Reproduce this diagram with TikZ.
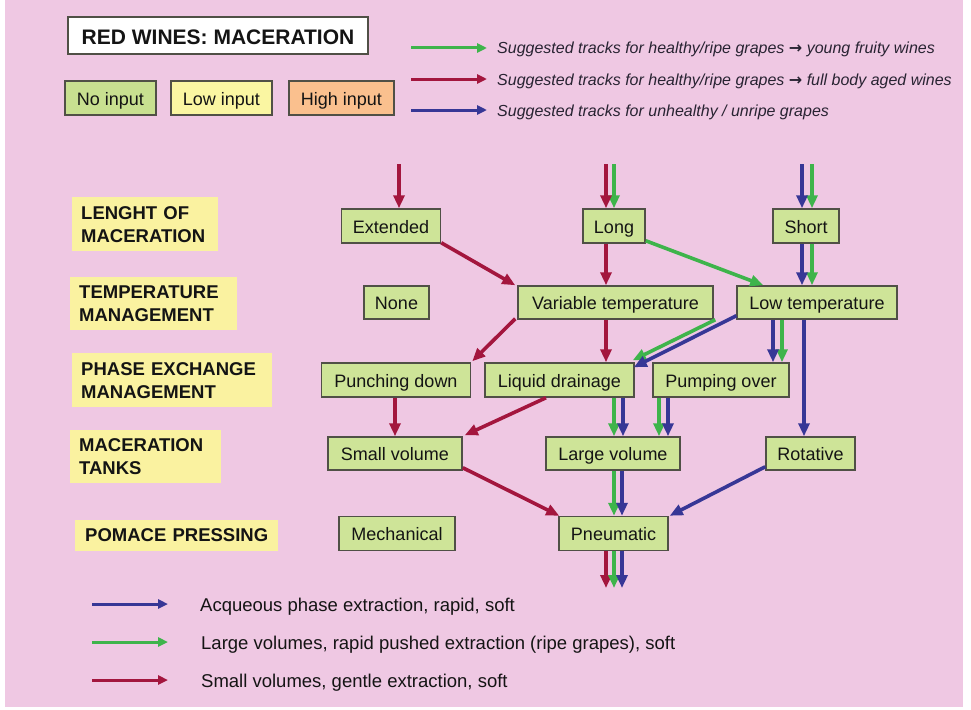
\documentclass[tikz,border=0pt]{standalone}
\usepackage{fontspec}
\setmainfont{Liberation Sans}
\newfontfamily\dejavu{DejaVu Sans}
\usetikzlibrary{arrows.meta}
\definecolor{bgpink}{RGB}{239,200,227}
\definecolor{nodegreen}{RGB}{206,228,152}
\definecolor{noinput}{RGB}{200,224,144}
\definecolor{lowyellow}{RGB}{250,246,162}
\definecolor{highorange}{RGB}{250,192,142}
\definecolor{catyellow}{RGB}{250,242,160}
\definecolor{aRed}{RGB}{163,22,62}
\definecolor{aGreen}{RGB}{62,180,75}
\definecolor{aBlue}{RGB}{55,55,150}
\definecolor{edgegray}{RGB}{80,80,70}
\definecolor{txt}{RGB}{20,20,20}
\definecolor{legtxt}{RGB}{40,35,50}
\tikzset{
 nbox/.style={draw=edgegray, line width=1.5pt, fill=nodegreen, minimum height=34pt,
   inner sep=0pt, text height=16pt, text depth=2pt, font=\fontsize{18}{21}\selectfont, text=txt},
 titlebox/.style={draw=edgegray, line width=1.5pt, fill=white, minimum height=37pt,
   inner sep=0pt, text height=19pt, text depth=1pt, font=\fontsize{21}{24}\selectfont\bfseries, text=txt},
 cat/.style={fill=catyellow, anchor=north west, inner xsep=9pt, inner ysep=0pt, align=left,
   font=\fontsize{18.5}{23}\selectfont\bfseries, text=txt},
 flow/.style={line width=3.6pt, -{Triangle[length=13pt,width=11pt]}},
 rd/.style={flow, draw=aRed},
 gr/.style={flow, draw=aGreen},
 bl/.style={flow, draw=aBlue},
 legarrow/.style={line width=3pt, -{Triangle[length=10pt,width=9pt]}},
 toplegtext/.style={anchor=base west, inner sep=0pt, text=legtxt, font=\fontsize{16}{19}\selectfont\itshape},
 botlegtext/.style={anchor=base west, inner sep=0pt, text=txt, font=\fontsize{18.5}{22}\selectfont},
}
\newcommand\legarr{{\dejavu\upshape\bfseries\fontsize{16}{18}\selectfont →}}
\begin{document}
\begin{tikzpicture}[x=1pt,y=-1pt]
\useasboundingbox (0,0) rectangle (971,709);
\fill[white] (0,0) rectangle (971,709);
\fill[bgpink] (5,0) rectangle (963,707);

% title and input legend
\node[titlebox, minimum width=300pt] (title) at (218,35.5) {RED WINES: MACERATION};
\node[nbox, fill=noinput, minimum width=91pt] (noin) at (110.5,98) {No input};
\node[nbox, fill=lowyellow, minimum width=101pt] (lowin) at (221.5,98) {Low input};
\node[nbox, fill=highorange, minimum width=105pt] (highin) at (341.5,98) {High input};

% track legend (top right)
\coordinate (lg1a) at (411,48); \coordinate (lg1b) at (487,48);
\coordinate (lg2a) at (411,79); \coordinate (lg2b) at (487,79);
\coordinate (lg3a) at (411,110); \coordinate (lg3b) at (487,110);
\draw[legarrow, draw=aGreen] (lg1a) -- (lg1b);
\draw[legarrow, draw=aRed] (lg2a) -- (lg2b);
\draw[legarrow, draw=aBlue] (lg3a) -- (lg3b);
\node[toplegtext] (lt1) at (497,54) {Suggested tracks for healthy/ripe grapes \legarr{} young fruity wines};
\node[toplegtext] (lt2) at (497,85) {Suggested tracks for healthy/ripe grapes \legarr{} full body aged wines};
\node[toplegtext] (lt3) at (497,116) {Suggested tracks for unhealthy / unripe grapes};

% category labels
\node[cat, minimum width=146pt, minimum height=54pt, text width=128pt] (c1) at (72,197) {LENGHT OF\\MACERATION};
\node[cat, minimum width=167pt, minimum height=53pt, text width=149pt] (c2) at (70,277) {TEMPERATURE\\MANAGEMENT};
\node[cat, minimum width=200pt, minimum height=54pt, text width=182pt] (c3) at (72,353) {PHASE EXCHANGE\\MANAGEMENT};
\node[cat, minimum width=151pt, minimum height=53pt, text width=133pt] (c4) at (70,430) {MACERATION\\TANKS};
\node[cat, minimum width=203pt, minimum height=31pt, text width=185pt, align=center] (c5) at (75,519.5) {POMACE PRESSING};

% process nodes
\node[nbox, minimum width=99pt] (ext) at (391,226) {Extended};
\node[nbox, minimum width=62pt] (long) at (614,226) {Long};
\node[nbox, minimum width=66pt] (short) at (806,226) {Short};
\node[nbox, minimum width=65pt, minimum height=33pt] (none) at (396.5,302.5) {None};
\node[nbox, minimum width=195pt, minimum height=33pt] (var) at (615.5,302.5) {Variable temperature};
\node[nbox, minimum width=160pt, minimum height=33pt] (low) at (817,302.5) {Low temperature};
\node[nbox, minimum width=149pt] (punch) at (396,380) {Punching down};
\node[nbox, minimum width=149pt] (liquid) at (559.5,380) {Liquid drainage};
\node[nbox, minimum width=136pt] (pump) at (721,380) {Pumping over};
\node[nbox, minimum width=134pt, minimum height=33pt] (small) at (395,453.5) {Small volume};
\node[nbox, minimum width=134pt, minimum height=33pt] (large) at (613,453.5) {Large volume};
\node[nbox, minimum width=89pt, minimum height=33pt] (rot) at (810.5,453.5) {Rotative};
\node[nbox, minimum width=116pt] (mech) at (397,533.5) {Mechanical};
\node[nbox, minimum width=109pt] (pneu) at (613.5,533.5) {Pneumatic};

% incoming arrows
\coordinate (inE) at (399,164);
\coordinate (inLr) at (606,164);
\coordinate (inLg) at (614,164);
\coordinate (inSb) at (802,164);
\coordinate (inSg) at (812,164);
\draw[rd] (inE) -- (inE |- ext.north);
\draw[gr] (inLg) -- (inLg |- long.north);
\draw[rd] (inLr) -- (inLr |- long.north);
\draw[gr] (inSg) -- (inSg |- short.north);
\draw[bl] (inSb) -- (inSb |- short.north);

% row 1 -> row 2
\draw[rd] ([yshift=1pt]ext.south east) -- ([xshift=-2pt]var.north west);
\draw[rd] ([xshift=-8pt]long.south) coordinate (t1) -- (t1 |- var.north);
\draw[gr] ([yshift=3pt]long.south east) -- ([xshift=27pt]low.north west);
\draw[gr] ([xshift=6pt]short.south) coordinate (t2) -- (t2 |- low.north);
\draw[bl] ([xshift=-4pt]short.south) coordinate (t3) -- (t3 |- low.north);

% row 2 -> row 3
\draw[rd] ([xshift=-2pt,yshift=1pt]var.south west) -- ([xshift=1pt,yshift=1pt]punch.north east);
\draw[rd] ([xshift=-9.5pt]var.south) coordinate (t4) -- (t4 |- liquid.north);
\draw[gr] ([xshift=-21pt]low.south west) -- ([xshift=-2pt,yshift=2pt]liquid.north east);
\draw[bl] ([yshift=4pt]low.south west) -- ([xshift=-1pt,yshift=-5pt]liquid.north east);
\draw[gr] ([xshift=-35pt]low.south) coordinate (t5) -- (t5 |- pump.north);
\draw[bl] ([xshift=-44pt]low.south) coordinate (t6) -- (t6 |- pump.north);
\draw[bl] ([xshift=-13pt]low.south) coordinate (t7) -- (t7 |- rot.north);

% row 3 -> row 4
\draw[rd] ([xshift=-1pt]punch.south) coordinate (t8) -- (t8 |- small.north);
\draw[rd] ([xshift=-13.5pt]liquid.south) -- ([xshift=2pt,yshift=1pt]small.north east);
\draw[gr] ([xshift=54.5pt]liquid.south) coordinate (t9) -- (t9 |- large.north);
\draw[bl] ([xshift=63.5pt]liquid.south) coordinate (t10) -- (t10 |- large.north);
\draw[gr] ([xshift=-62pt]pump.south) coordinate (t11) -- (t11 |- large.north);
\draw[bl] ([xshift=-53pt]pump.south) coordinate (t12) -- (t12 |- large.north);

% row 4 -> row 5
\draw[rd] ([yshift=3pt]small.south east) -- ([xshift=1pt]pneu.north west);
\draw[gr] ([xshift=1pt]large.south) coordinate (t13) -- (t13 |- pneu.north);
\draw[bl] ([xshift=9pt]large.south) coordinate (t14) -- (t14 |- pneu.north);
\draw[bl] ([yshift=4pt]rot.south west) -- ([xshift=1pt]pneu.north east);

% outgoing
\coordinate (oR) at (606,588);
\coordinate (oG) at (614,588);
\coordinate (oB) at (622,588);
\draw[rd] (oR |- pneu.south) -- (oR);
\draw[gr] (oG |- pneu.south) -- (oG);
\draw[bl] (oB |- pneu.south) -- (oB);

% bottom legend
\coordinate (bl1a) at (92,604); \coordinate (bl1b) at (168,604);
\coordinate (bl2a) at (92,642); \coordinate (bl2b) at (168,642);
\coordinate (bl3a) at (92,680); \coordinate (bl3b) at (168,680);
\draw[legarrow, draw=aBlue] (bl1a) -- (bl1b);
\draw[legarrow, draw=aGreen] (bl2a) -- (bl2b);
\draw[legarrow, draw=aRed] (bl3a) -- (bl3b);
\node[botlegtext] (bt1) at (200,611) {Acqueous phase extraction, rapid, soft};
\node[botlegtext] (bt2) at (201,649) {Large volumes, rapid pushed extraction (ripe grapes), soft};
\node[botlegtext] (bt3) at (201,687) {Small volumes, gentle extraction, soft};
\end{tikzpicture}
\end{document}
